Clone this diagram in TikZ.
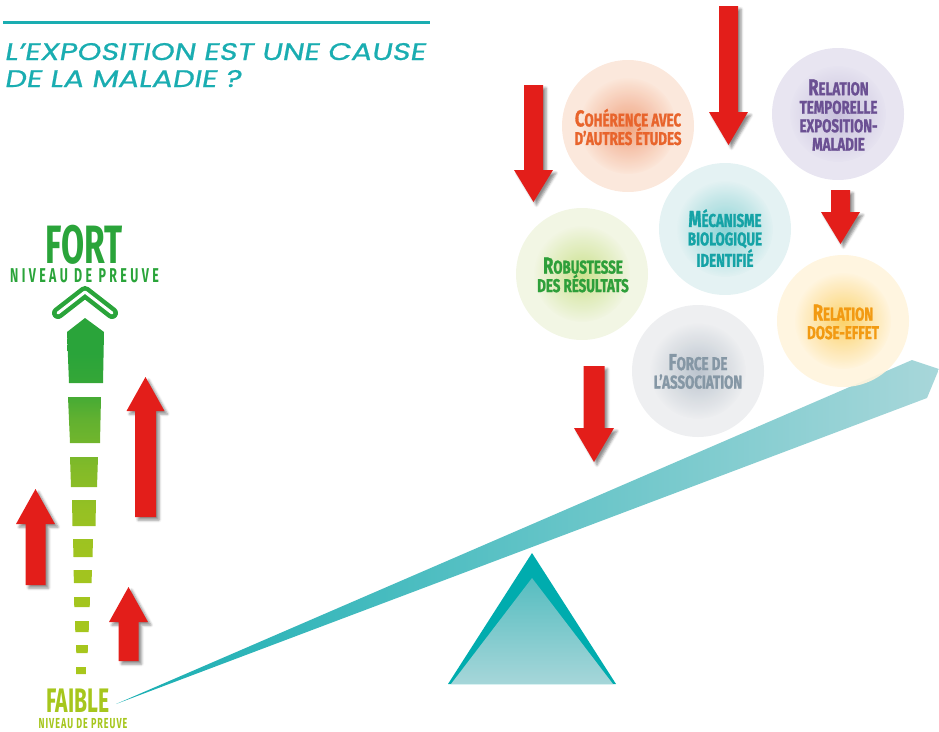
\documentclass[tikz,border=0pt]{standalone}
\usepackage{fontspec}
\usetikzlibrary{shadows.blur}
\newfontfamily\titlefont[FakeSlant=0.18, FakeStretch=1.27, FakeBold=0.8]{Poppins}
\newfontfamily\condfont[FakeStretch=0.72, FakeBold=1.2]{Fira Sans}
\newfontfamily\tallfont[FakeStretch=0.62]{Fira Sans}

\definecolor{titleteal}{HTML}{1AADB1}
\definecolor{arrowred}{HTML}{E31E1A}
\definecolor{fortgreen}{HTML}{2AA43A}
\definecolor{faiblegreen}{HTML}{A6C61D}
\definecolor{lvT}{HTML}{2AA43A}
\definecolor{lvA}{HTML}{35A737}
\definecolor{lvB}{HTML}{62B130}
\definecolor{lvC}{HTML}{84BB28}
\definecolor{lvD}{HTML}{97C123}
\definecolor{lvE}{HTML}{A1C41F}
\definecolor{lvZ}{HTML}{A8C71C}
\definecolor{beamL}{HTML}{17AEB2}
\definecolor{beamM}{HTML}{66C3C6}
\definecolor{beamR}{HTML}{A8D7DA}
\definecolor{fulDark}{HTML}{00ACAE}
\definecolor{fulTop}{HTML}{56BDC0}
\definecolor{fulBot}{HTML}{A6D6D9}
\definecolor{cohRing}{HTML}{FBE6D9}
\definecolor{cohIn}{HTML}{F0A07A}
\definecolor{cohTxt}{HTML}{E8642C}
\definecolor{tempRing}{HTML}{E6E3F0}
\definecolor{tempIn}{HTML}{C6BEDB}
\definecolor{tempTxt}{HTML}{6B5093}
\definecolor{mecRing}{HTML}{E2F1F2}
\definecolor{mecIn}{HTML}{86D2D4}
\definecolor{mecTxt}{HTML}{15A3A6}
\definecolor{robRing}{HTML}{F1F5E2}
\definecolor{robIn}{HTML}{C9E186}
\definecolor{robTxt}{HTML}{2E9F3A}
\definecolor{forRing}{HTML}{EDEEF0}
\definecolor{forIn}{HTML}{B8C2CC}
\definecolor{forTxt}{HTML}{8597A5}
\definecolor{doseRing}{HTML}{FFF4DD}
\definecolor{doseIn}{HTML}{FBD061}
\definecolor{doseTxt}{HTML}{F29A12}

\pgfdeclareverticalshading{levelshade}{100bp}{color(0bp)=(lvZ); color(25bp)=(lvZ); color(41bp)=(lvE); color(47.6bp)=(lvD); color(53.4bp)=(lvC); color(60.7bp)=(lvB); color(65.9bp)=(lvA); color(70bp)=(lvT); color(100bp)=(lvT)}

% cx, tip y, head base y, head half width, shaft half width, tail y
\newcommand\redArrow[6]{%
  \fill[redarrow] (#1,#2) -- (#1+#4,#3) -- (#1+#5,#3) -- (#1+#5,#6) -- (#1-#5,#6) -- (#1-#5,#3) -- (#1-#4,#3) -- cycle;}
\newcommand\capL[1]{{\fontsize{23}{19}\selectfont #1}}
% center, ring colour, inner colour
\newcommand\bubble[3]{%
  \fill[#2, fill opacity=0.92] (#1) circle[radius=66pt];
  \shade[inner color=#3, outer color=#2, fill opacity=0.92] (#1) circle[radius=48pt];}

\begin{document}
\begin{tikzpicture}[x=1pt,y=-1pt,
  redarrow/.style={fill=arrowred, blur shadow={shadow xshift=3pt, shadow yshift=-3pt, shadow blur radius=2.5pt, shadow opacity=45}},
  lbl/.style={font=\condfont\bfseries\fontsize{18.5}{18.5}\selectfont, align=center, inner sep=0pt},
  tall/.style={font=\tallfont\bfseries, inner sep=0pt, anchor=base, text depth=0pt}]
\useasboundingbox (0,0) rectangle (939,731);

% title
\draw[titleteal, line width=2.4pt] (3,22.5) -- (430,22.5);
\node[font=\titlefont\fontsize{24}{28}\selectfont, text=titleteal, anchor=base west, inner sep=0pt] (title1) at (4,60) {L’EXPOSITION EST UNE CAUSE};
\node[font=\titlefont\fontsize{24}{28}\selectfont, text=titleteal, anchor=base west, inner sep=0pt] (title2) at (4,87) {DE LA MALADIE ?};

% level of evidence scale
\node[tall, font=\tallfont\bfseries\fontsize{54}{54}\selectfont, text=fortgreen] (fort) at (84,263) {FORT};
\node[tall, font=\tallfont\bfseries\fontsize{20}{20}\selectfont\addfontfeatures{LetterSpace=17}, text=fortgreen] (nivtop) at (84.5,282) {NIVEAU DE PREUVE};
\draw[fortgreen, line width=12pt, line cap=round, line join=round] (58,313) -- (85,292) -- (112,313);
\draw[white, line width=3pt, line cap=round, line join=round] (58,313) -- (85,292) -- (112,313);
\shade[shading=levelshade]
  (85,318) -- (104,332) -- (103,383) -- (69,383) -- (67,332) -- cycle
  (68,397) -- (101,397) -- (100,443) -- (70,443) -- cycle
  (70,457) -- (98,457) -- (97,487) -- (71,487) -- cycle
  (72,500) -- (96,500) -- (95.5,526) -- (72.5,526) -- cycle
  (73,539) -- (93,539) -- (92.5,557) -- (73.5,557) -- cycle
  (73.5,570) -- (92,570) -- (91.5,583) -- (74,583) -- cycle
  (74,597) -- (90,597) -- (89.7,607) -- (74.3,607) -- cycle
  (75,621) -- (89,621) -- (88.7,632) -- (75.3,632) -- cycle
  (76,645) -- (88,645) -- (87.7,653) -- (76.3,653) -- cycle
  (76,667) -- (86,667) -- (85.8,674) -- (76.2,674) -- cycle;
\node[tall, font=\tallfont\bfseries\fontsize{34}{34}\selectfont, text=faiblegreen] (faible) at (78,712) {FAIBLE};
\node[tall, font=\tallfont\bfseries\fontsize{14.5}{14.5}\selectfont\addfontfeatures{LetterSpace=7}, text=faiblegreen] (nivbot) at (83,728.5) {NIVEAU DE PREUVE};

% up arrows
\redArrow{145.5}{377}{411}{19}{10.5}{517}
\redArrow{35.5}{489}{524}{19.5}{10}{585}
\redArrow{128.5}{587}{622}{19.5}{10}{661}

% seesaw
\shade[left color=beamL, middle color=beamM, right color=beamR]
  (116,704) -- (912,360) -- (939,369) -- (927,398) -- cycle;
\fill[fulDark] (532,553) -- (616,684) -- (448,684) -- cycle;
\shade[top color=fulTop, bottom color=fulBot] (532,578) -- (613,684) -- (451,684) -- cycle;

% bubbles
\bubble{628,126}{cohRing}{cohIn}
\bubble{838,114}{tempRing}{tempIn}
\bubble{725,229}{mecRing}{mecIn}
\bubble{582,274}{robRing}{robIn}
\bubble{698,371}{forRing}{forIn}
\bubble{843,321}{doseRing}{doseIn}

\node[lbl, text=cohTxt] (coh) at (628,127) {\capL{C}OHÉRENCE AVEC\\D’AUTRES ÉTUDES};
\node[lbl, text=tempTxt] (temp) at (838.5,115) {\capL{R}ELATION\\TEMPORELLE\\EXPOSITION-\\MALADIE};
\node[lbl, text=mecTxt] (mec) at (725,238) {\capL{M}ÉCANISME\\BIOLOGIQUE\\IDENTIFIÉ};
\node[lbl, text=robTxt] (rob) at (583,275) {\capL{R}OBUSTESSE\\DES RÉSULTATS};
\node[lbl, text=forTxt] (force) at (698,371.5) {\capL{F}ORCE DE\\L’ASSOCIATION};
\node[lbl, text=doseTxt] (dose) at (843,322) {\capL{R}ELATION\\DOSE-EFFET};

% down arrows
\redArrow{533.5}{202}{170}{19.5}{9.5}{85}
\redArrow{728.5}{145}{112}{19.5}{9.5}{6}
\redArrow{840.5}{244}{212}{19.5}{9.5}{190}
\redArrow{594}{462}{428}{20}{10.5}{366}
\end{tikzpicture}
\end{document}
